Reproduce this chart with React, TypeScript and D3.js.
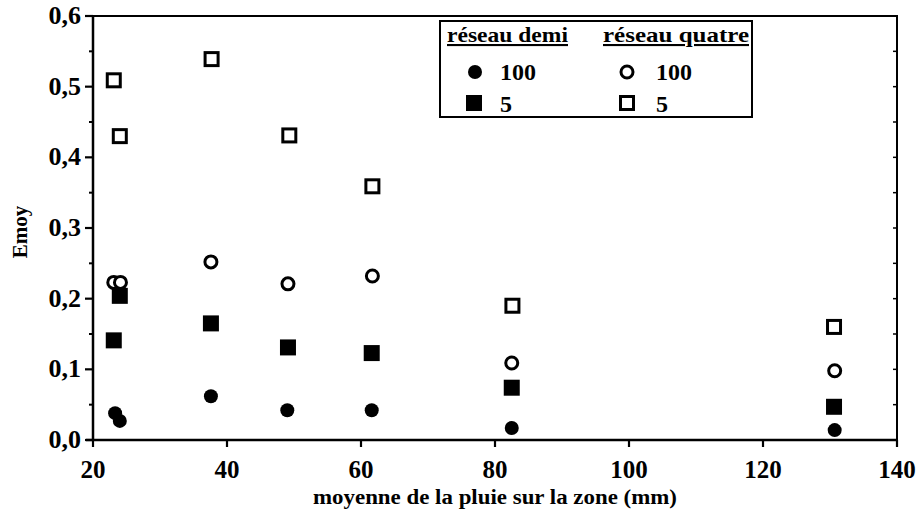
import React from "react";
import * as d3 from "d3";

// pluie moyenne sur la zone (mm)
const pluieDemi100 = [23.3, 24.0, 37.6, 49.0, 61.6, 82.5, 130.7];
const emoyDemi100 = [0.038, 0.027, 0.062, 0.042, 0.042, 0.017, 0.014];

const pluieDemi5 = [23.1, 24.0, 37.6, 49.1, 61.6, 82.5, 130.6];
const emoyDemi5 = [0.141, 0.204, 0.165, 0.131, 0.123, 0.074, 0.047];

const pluieQuatre100 = [23.1, 24.1, 37.6, 49.1, 61.7, 82.5, 130.7];
const emoyQuatre100 = [0.223, 0.223, 0.252, 0.221, 0.232, 0.109, 0.098];

const pluieQuatre5 = [23.1, 24.0, 37.7, 49.3, 61.7, 82.6, 130.6];
const emoyQuatre5 = [0.509, 0.43, 0.539, 0.431, 0.359, 0.19, 0.16];

const xTicks = [20, 40, 60, 80, 100, 120, 140];
const yTicks = [0, 0.1, 0.2, 0.3, 0.4, 0.5, 0.6];
const yMinor = [0.05, 0.15, 0.25, 0.35, 0.45, 0.55];

const W = 924;
const H = 512;
const font = "Liberation Serif, DejaVu Serif, serif";

export default function App() {
  const x = d3.scaleLinear().domain([20, 140]).range([93, 897]);
  const y = d3.scaleLinear().domain([0, 0.6]).range([440, 16]);
  const fmt = (v: number) => d3.format(".1f")(v).replace(".", ",");

  const zip = (a: number[], b: number[]) => a.map((v, i) => [v, b[i]]);

  const circle = (px: number, py: number, filled: boolean, key: string) => (
    <circle key={key} cx={px} cy={py} r={filled ? 7 : 6}
      fill={filled ? "#000" : "#fff"} stroke="#000" strokeWidth={filled ? 0 : 3} />
  );
  const square = (px: number, py: number, filled: boolean, key: string) =>
    filled ? (
      <rect key={key} x={px - 8} y={py - 8} width={16} height={16} fill="#000" />
    ) : (
      <rect key={key} x={px - 6.5} y={py - 6.5} width={13} height={13}
        fill="#fff" stroke="#000" strokeWidth={3} />
    );

  return (
    <svg width={W} height={H} style={{ position: "absolute", left: 0, top: 0, background: "#fff" }}>
      {/* cadre */}
      <line x1={93} x2={93} y1={16} y2={441} stroke="#000" strokeWidth={2.5} />
      <line x1={86} x2={898} y1={440} y2={440} stroke="#000" strokeWidth={2.5} />
      <line x1={93} x2={898} y1={16} y2={16} stroke="#000" strokeWidth={2} />
      <line x1={897} x2={897} y1={16} y2={447} stroke="#000" strokeWidth={2} />

      {yTicks.map((t) => (
        <g key={"y" + t}>
          <line x1={85} x2={93} y1={y(t)} y2={y(t)} stroke="#000" strokeWidth={2.2} />
          <text x={81} y={y(t) + 8} textAnchor="end" fontFamily={font} fontWeight="bold" fontSize={26}>
            {fmt(t)}
          </text>
        </g>
      ))}
      {yMinor.map((t) => (
        <line key={"m" + t} x1={89} x2={93} y1={y(t)} y2={y(t)} stroke="#000" strokeWidth={2} />
      ))}
      {yMinor.concat(yTicks).map((t) => (
        <line key={"r" + t} x1={893} x2={897} y1={y(t)} y2={y(t)} stroke="#000" strokeWidth={1.5} />
      ))}
      {xTicks.map((t) => (
        <g key={"x" + t}>
          <line x1={x(t)} x2={x(t)} y1={440} y2={447} stroke="#000" strokeWidth={2.2} />
          <text x={x(t)} y={478} textAnchor="middle" fontFamily={font} fontWeight="bold" fontSize={25}>
            {t}
          </text>
        </g>
      ))}

      <text x={495} y={504} textAnchor="middle" fontFamily={font} fontWeight="bold" fontSize={20}
        textLength={364} lengthAdjust="spacingAndGlyphs">
        moyenne de la pluie sur la zone (mm)
      </text>
      <text transform="translate(27,232) rotate(-90)" textAnchor="middle" fontFamily={font} fontWeight="bold" fontSize={21}>
        Emoy
      </text>

      {zip(pluieDemi100, emoyDemi100).map(([a, b], i) => circle(x(a), y(b), true, "d100" + i))}
      {zip(pluieDemi5, emoyDemi5).map(([a, b], i) => square(x(a), y(b), true, "d5" + i))}
      {zip(pluieQuatre100, emoyQuatre100).map(([a, b], i) => circle(x(a), y(b), false, "q100" + i))}
      {zip(pluieQuatre5, emoyQuatre5).map(([a, b], i) => square(x(a), y(b), false, "q5" + i))}

      {/* légende */}
      <rect x={440} y={21} width={312} height={96} fill="#fff" stroke="#000" strokeWidth={2} />
      <text x={447} y={42} fontFamily={font} fontWeight="bold" fontSize={21} textDecoration="underline"
        textLength={121} lengthAdjust="spacingAndGlyphs">
        réseau demi
      </text>
      <text x={603} y={42} fontFamily={font} fontWeight="bold" fontSize={21} textDecoration="underline"
        textLength={146} lengthAdjust="spacingAndGlyphs">
        réseau quatre
      </text>
      {circle(475, 72, true, "l1")}
      <text x={500} y={80} fontFamily={font} fontWeight="bold" fontSize={24}>100</text>
      {square(474, 103, true, "l2")}
      <text x={500} y={112} fontFamily={font} fontWeight="bold" fontSize={24}>5</text>
      {circle(627, 72, false, "l3")}
      <text x={656} y={80} fontFamily={font} fontWeight="bold" fontSize={24}>100</text>
      {square(627, 103, false, "l4")}
      <text x={656} y={112} fontFamily={font} fontWeight="bold" fontSize={24}>5</text>
    </svg>
  );
}
